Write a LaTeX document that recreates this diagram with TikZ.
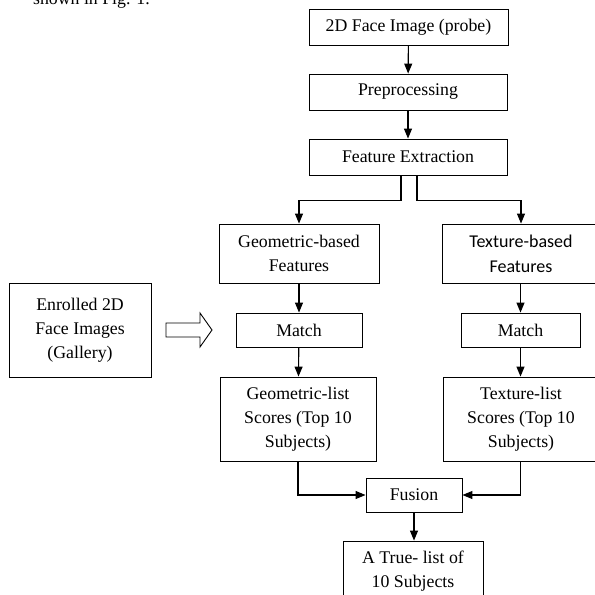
\documentclass[tikz,border=0pt]{standalone}
\usepackage{fontspec}
\setmainfont{Liberation Serif}
\newfontfamily\calib{Carlito}
\usetikzlibrary{arrows.meta}
\begin{document}
\begin{tikzpicture}[x=1pt,y=-1pt,
  box/.style={draw, line width=0.9pt, align=center, inner sep=0pt,
    font=\fontsize{17.8}{24}\selectfont},
  conn/.style={draw, line width=1.1pt, -{Triangle[width=8pt,length=10pt]}},
  hollow/.style={draw, line width=0.9pt, fill=white}]
\useasboundingbox (0,0) rectangle (595,595);
\clip (0,0) rectangle (595,595);
\node[anchor=base east, inner sep=0pt, font=\fontsize{17.8}{24}\selectfont] (cap) at (150,4) {shown in Fig. 1.};
\node[box, minimum width=199pt, minimum height=36pt] (b1) at (408.5,27) {2D Face Image (probe)};
\node[box, minimum width=198pt, minimum height=36pt] (b2) at (408,92) {Preprocessing};
\node[box, minimum width=198pt, minimum height=36pt] (b3) at (408,157) {Feature Extraction};
\node[box, minimum width=160pt, minimum height=59pt] (geo) at (299,253.5) {Geometric-based\\Features};
\node[box, minimum width=158pt, minimum height=59pt, font=\calib\fontsize{18}{25}\selectfont] (tex) at (521,253.5) {Texture-based\\Features};
\node[box, minimum width=126pt, minimum height=34pt] (m1) at (299,330) {Match};
\node[box, minimum width=119pt, minimum height=34pt] (m2) at (520.5,330) {Match};
\node[box, minimum width=156pt, minimum height=84pt] (gl) at (298,419) {Geometric-list\\Scores (Top 10\\Subjects)};
\node[box, minimum width=156pt, minimum height=84pt] (tl) at (521,419) {Texture-list\\Scores (Top 10\\Subjects)};
\node[box, minimum width=96pt, minimum height=34pt] (fu) at (414,495) {Fusion};
\node[box, minimum width=140pt, minimum height=60pt] (fin) at (413,571) {A True- list of\\10 Subjects};
\node[box, minimum width=142pt, minimum height=94pt] (enr) at (80,330) {Enrolled 2D\\Face Images\\(Gallery)};
\path[conn] (b1) -- (b2);
\path[conn] (b2) -- (b3);
\path[conn] ([xshift=-7pt]b3.south) -- ++(0,25) -| (geo.north);
\path[conn] ([xshift=9pt]b3.south) -- ++(0,25) -| (tex.north);
\path[conn] (geo) -- (m1);
\path[conn] (tex.south -| m2) -- (m2);
\path[conn] (m1) -- (gl);
\path[conn] (m2) -- (m2 |- tl.north);
\path[conn] (gl.south) |- (fu.west);
\path[conn] (tl.south -| m2) |- (fu.east);
\path[conn] (fu) -- (fu.south |- fin.north);
\draw[hollow] (166,323) -- (200,323) -- (200,313) -- (212,330) -- (200,347) -- (200,337) -- (166,337) -- cycle;
\end{tikzpicture}
\end{document}
